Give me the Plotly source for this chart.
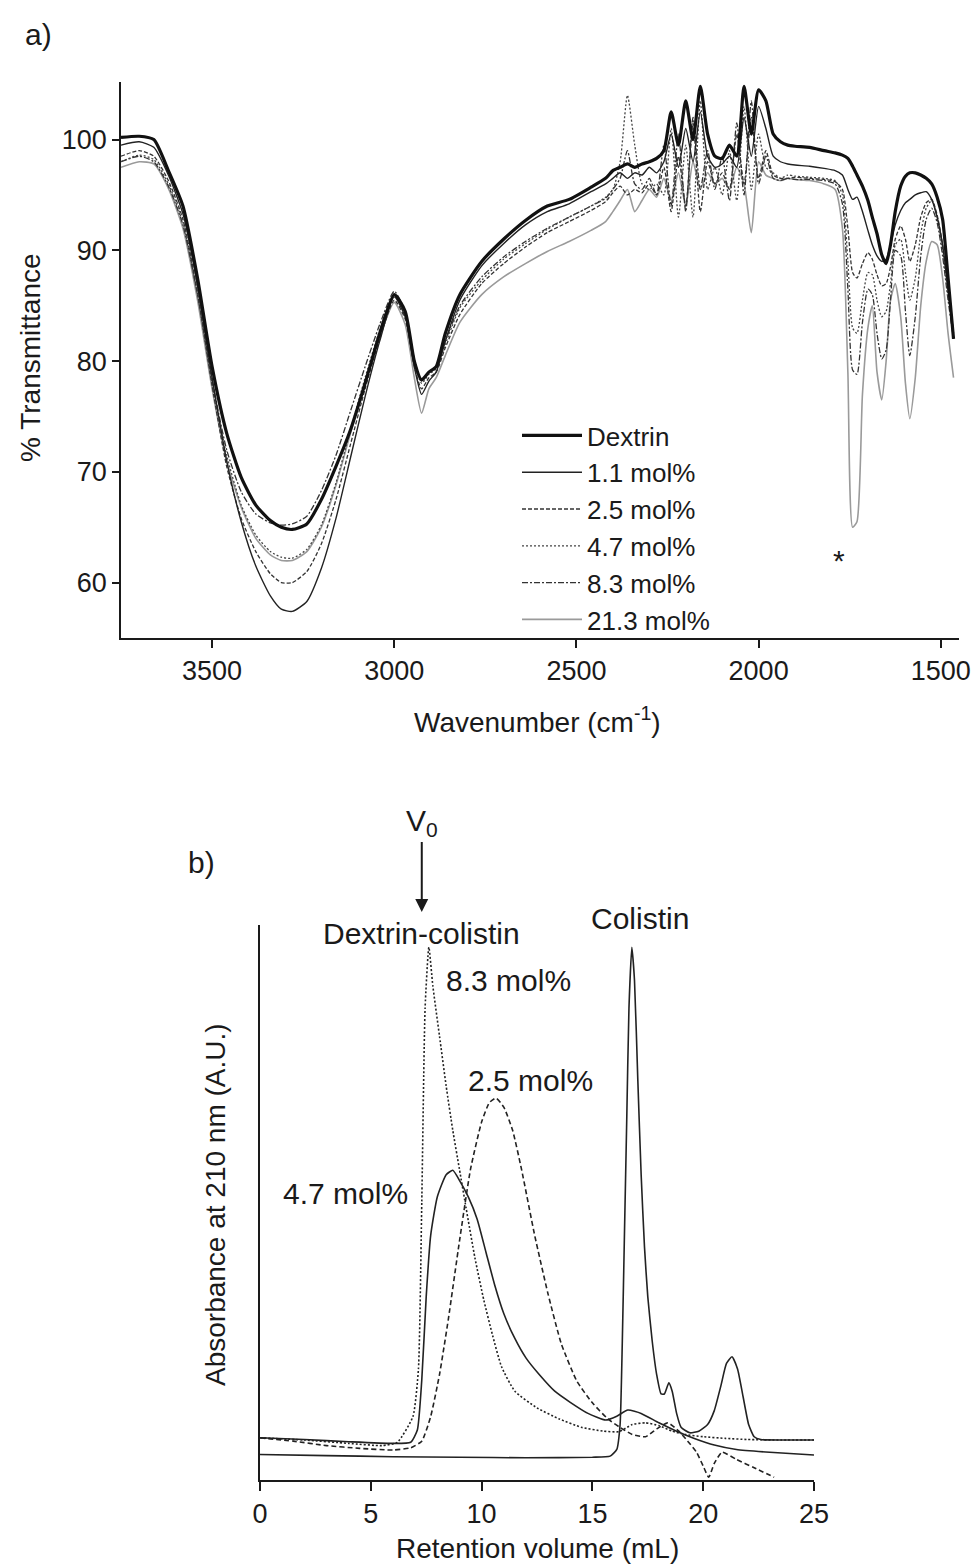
import plotly.graph_objects as go

# ---------------- Panel a) FTIR ----------------
WN_BAND = [3750, 3700, 3660, 3620, 3580, 3540, 3500, 3460, 3420, 3380, 3340, 3310, 3280, 3240,
           3200, 3160, 3120, 3080, 3040, 3000, 2970, 2945, 2925, 2905, 2885, 2860, 2820, 2760,
           2700, 2640, 2580, 2520, 2460, 2420]
WN_NOISE = [2400, 2380, 2360, 2340, 2320, 2300, 2280, 2260, 2240, 2220, 2200, 2180, 2160, 2140,
            2120, 2100, 2080, 2060, 2040, 2020, 2000, 1980, 1960, 1940, 1920, 1900]
WN_AMIDE = [1860, 1820, 1790, 1770, 1755, 1742, 1730, 1715, 1700, 1688, 1675, 1662, 1650, 1638,
            1625, 1610, 1597, 1585, 1570, 1555, 1540, 1525, 1510, 1495, 1480, 1465]

DEX_BAND = [100.2, 100.3, 100.0, 97.2, 94.0, 87.5, 79.5, 73.5, 69.5, 67.0, 65.6, 65.0, 64.8, 65.3,
            67.5, 70.5, 73.8, 78.0, 82.5, 86.0, 84.5, 80.0, 78.3, 79.0, 79.5, 82.5, 86.0, 89.0,
            91.0, 92.7, 94.0, 94.6, 95.7, 96.5]
DEX_NOISE = [97.2, 97.5, 97.8, 97.5, 97.8, 98.0, 98.3, 99.0, 102.5, 99.5, 103.5, 100.0, 104.8, 100.5,
             98.5, 98.3, 99.5, 98.5, 104.8, 100.5, 104.5, 103.5, 100.5, 99.8, 99.5, 99.4]
DEX_AMIDE = [99.3, 99.0, 98.8, 98.6, 98.3, 97.6, 96.8, 95.8, 94.5, 93.0, 91.5, 89.6, 88.8, 90.5,
             93.5, 95.8, 96.7, 97.0, 97.0, 96.8, 96.5, 96.0, 94.8, 92.8, 87.5, 82.0]

M11_BAND = [99.5, 99.8, 99.3, 96.8, 93.3, 86.8, 78.5, 71.0, 65.5, 61.5, 58.8, 57.6, 57.4, 58.3,
            61.3, 65.8, 71.3, 76.8, 81.8, 85.8, 84.0, 79.5, 77.0, 78.2, 79.0, 81.8, 85.5, 88.6,
            90.6, 92.3, 93.5, 94.2, 95.3, 96.0]
M11_NOISE = [96.5, 97.0, 96.5, 97.0, 96.8, 97.5, 97.0, 98.0, 100.5, 97.5, 101.0, 98.0, 102.5, 98.5,
             97.5, 97.8, 98.5, 97.5, 102.0, 98.5, 103.0, 101.0, 98.5, 98.0, 97.8, 97.7]
M11_AMIDE = [97.6, 97.4, 97.2, 96.8, 95.5, 94.6, 94.8, 93.5, 91.8, 90.5, 89.5, 89.0, 89.2, 90.5,
             92.3, 93.6, 94.3, 94.6, 95.0, 95.2, 95.3, 94.6, 93.0, 90.5, 86.5, 82.5]

M25_BAND = [98.5, 99.0, 98.5, 96.3, 92.8, 86.2, 77.8, 70.5, 65.8, 62.8, 60.8, 60.0, 60.0, 61.0,
            63.5, 67.5, 72.5, 77.5, 82.0, 85.5, 83.8, 79.5, 77.5, 78.5, 79.0, 81.2, 84.2, 87.0,
            88.8, 90.3, 91.6, 92.6, 93.6, 94.4]
M25_NOISE = [95.2, 95.8, 95.0, 95.5, 95.2, 96.0, 95.0, 97.5, 93.5, 98.5, 94.0, 101.5, 93.5, 98.0,
             96.0, 97.0, 95.5, 100.5, 96.0, 102.0, 96.5, 99.0, 96.8, 96.5, 96.5, 96.6]
M25_AMIDE = [96.5, 96.4, 96.2, 95.5, 92.0, 88.0, 87.5, 88.8, 89.8, 89.2, 87.8, 86.8, 87.0, 88.5,
             91.0, 92.2, 91.0, 89.0, 90.5, 93.0, 94.3, 94.6, 93.2, 90.5, 86.5, 82.5]

M47_BAND = [98.0, 98.6, 98.2, 96.0, 92.5, 86.0, 78.0, 71.5, 67.0, 64.3, 62.8, 62.3, 62.2, 63.0,
            65.2, 69.0, 73.8, 78.5, 82.8, 86.0, 84.2, 80.0, 78.0, 78.8, 79.3, 81.5, 84.8, 87.3,
            89.2, 90.6, 91.9, 93.0, 94.0, 94.8]
M47_NOISE = [95.5, 98.0, 104.0, 99.5, 96.0, 95.5, 96.0, 95.0, 101.0, 93.0, 99.5, 93.0, 103.5, 95.5,
             97.5, 95.0, 99.0, 94.5, 103.0, 95.5, 100.5, 97.5, 97.0, 96.5, 96.8, 96.7]
M47_AMIDE = [96.6, 96.5, 96.3, 95.0, 89.0, 83.0, 82.5, 85.5, 88.0, 87.8, 85.5, 84.0, 84.5, 87.0,
             90.5, 91.0, 88.0, 85.5, 87.5, 91.5, 93.8, 94.5, 93.0, 90.0, 86.0, 82.5]

M83_BAND = [98.0, 98.5, 98.0, 95.8, 92.3, 86.0, 78.3, 72.0, 68.2, 66.2, 65.4, 65.2, 65.3, 66.0,
            68.3, 71.5, 75.5, 79.5, 83.3, 86.3, 84.5, 80.2, 78.2, 79.0, 79.5, 81.8, 85.0, 87.6,
            89.4, 90.8, 92.0, 93.0, 94.0, 94.7]
M83_NOISE = [95.5, 96.5, 99.0, 96.0, 95.5, 96.5, 95.0, 99.5, 94.0, 100.5, 93.5, 102.0, 95.5, 99.0,
             95.5, 98.5, 94.5, 101.5, 95.0, 103.5, 96.0, 98.5, 96.5, 96.3, 96.5, 96.4]
M83_AMIDE = [96.4, 96.3, 96.0, 94.2, 86.5, 79.2, 78.8, 83.5, 86.5, 86.0, 82.5, 80.2, 81.0, 85.5,
             90.0, 89.5, 84.5, 80.5, 84.0, 89.5, 92.8, 93.8, 92.5, 89.5, 85.5, 82.0]

M213_BAND = [97.5, 98.0, 97.8, 95.6, 92.0, 85.5, 77.5, 71.0, 66.8, 64.0, 62.5, 62.0, 62.0, 62.8,
             65.0, 68.8, 73.5, 78.0, 82.2, 85.3, 83.3, 78.5, 75.3, 77.5, 78.5, 80.5, 83.5, 86.0,
             87.6, 88.8, 89.9, 90.8, 91.8, 92.6]
M213_NOISE = [93.5, 94.5, 95.5, 93.5, 94.5, 95.5, 94.8, 96.5, 94.5, 97.0, 94.0, 98.0, 95.5, 97.0,
              96.0, 96.5, 95.5, 97.5, 96.0, 91.6, 98.0, 96.8, 96.5, 96.3, 96.5, 96.4]
M213_AMIDE = [96.3, 96.0, 95.5, 92.0, 79.0, 65.0, 65.5, 77.0, 83.0, 85.0, 79.0, 76.5, 80.0, 85.5,
              87.0, 84.0, 78.0, 74.8, 78.5, 85.0, 89.0, 90.8, 90.5, 87.5, 82.5, 78.5]

X_TICKS_A = [3500, 3000, 2500, 2000, 1500]
Y_TICKS_A = [60, 70, 80, 90, 100]

# ---------------- Panel b) SEC ----------------
COL_X = [0, 3, 6, 9, 12, 15, 15.8, 16.1, 16.25, 16.35, 16.45, 16.55, 16.65, 16.78, 16.9, 17.05,
         17.2, 17.35, 17.5, 17.7, 17.9, 18.1, 18.25, 18.45, 18.6, 18.8, 19.0, 19.4, 19.8, 20.2,
         20.5, 20.8, 21.05, 21.3, 21.55, 21.8, 22.05, 22.3, 22.6, 23.5, 25]
COL_Y = [0.046, 0.044, 0.042, 0.041, 0.040, 0.041, 0.043, 0.055, 0.10, 0.25, 0.45, 0.65, 0.85,
         0.96, 0.90, 0.72, 0.55, 0.42, 0.33, 0.25, 0.19, 0.155, 0.155, 0.175, 0.16, 0.12, 0.095,
         0.085, 0.088, 0.10, 0.125, 0.17, 0.21, 0.222, 0.20, 0.15, 0.10, 0.078, 0.073, 0.072, 0.072]

C47_X = [0, 2, 4, 6, 6.8, 7.1, 7.3, 7.5, 7.7, 8.0, 8.4, 8.7, 9.0, 9.4, 9.8, 10.2, 10.6, 11.0,
         11.5, 12.0, 12.6, 13.3, 14.0, 14.8, 15.6, 16.1, 16.6, 17.2, 18.0, 18.8, 19.6, 20.5,
         21.5, 23, 25]
C47_Y = [0.076, 0.073, 0.069, 0.066, 0.068, 0.09, 0.18, 0.33, 0.44, 0.51, 0.55, 0.558, 0.54,
         0.51, 0.47, 0.41, 0.35, 0.30, 0.255, 0.22, 0.19, 0.16, 0.14, 0.12, 0.108, 0.115, 0.126,
         0.12, 0.103, 0.088, 0.075, 0.063, 0.055, 0.05, 0.045]

C25_X = [0, 1.5, 3, 4.5, 6, 6.8, 7.3, 7.7, 8.1, 8.5, 9.0, 9.5, 10.0, 10.35, 10.65, 11.0, 11.4,
         11.8, 12.4, 13.0, 13.6, 14.3, 15.0, 15.7, 16.2, 16.8, 17.4, 17.9, 18.4, 18.9, 19.3,
         19.7, 20.0, 20.25, 20.5, 20.85, 21.5, 22.3, 23.2]
C25_Y = [0.076, 0.070, 0.062, 0.057, 0.054, 0.058, 0.07, 0.114, 0.19, 0.29, 0.43, 0.56, 0.645,
         0.68, 0.688, 0.672, 0.63, 0.56, 0.44, 0.335, 0.245, 0.178, 0.139, 0.11, 0.096, 0.082,
         0.078, 0.092, 0.103, 0.088, 0.07, 0.05, 0.025, 0.005, 0.03, 0.05, 0.037, 0.022, 0.005]

C83_X = [0, 2, 4, 5.5, 6.2, 6.9, 7.15, 7.3, 7.45, 7.62, 7.8, 8.1, 8.4, 8.7, 9.0, 9.3, 9.7,
         10.1, 10.5, 10.9, 11.5, 12.5, 13.5, 14.5, 15.5, 16.2, 16.8, 17.4, 18.0, 18.6, 19.2,
         20, 21, 22, 23.5, 25]
C83_Y = [0.076, 0.072, 0.066, 0.062, 0.068, 0.114, 0.2, 0.5, 0.85, 0.96, 0.89, 0.80, 0.71,
         0.63, 0.56, 0.49, 0.40, 0.324, 0.26, 0.204, 0.16, 0.13, 0.11, 0.095, 0.088, 0.087,
         0.10, 0.103, 0.098, 0.088, 0.082, 0.078, 0.075, 0.073, 0.072, 0.072]

X_TICKS_B = [0, 5, 10, 15, 20, 25]

FONT = "Arial, Liberation Sans, sans-serif"
INK = "#1a1a1a"
W, H = 972, 1566

fig = go.Figure()

WN = WN_BAND + WN_NOISE + WN_AMIDE
ftir = [
    ("21.3 mol%", M213_BAND + M213_NOISE + M213_AMIDE, "#9a9a9a", 1.6, "solid"),
    ("8.3 mol%", M83_BAND + M83_NOISE + M83_AMIDE, "#333333", 1.3, "6px,2px,2px,2px"),
    ("4.7 mol%", M47_BAND + M47_NOISE + M47_AMIDE, "#444444", 1.3, "2px,2px"),
    ("2.5 mol%", M25_BAND + M25_NOISE + M25_AMIDE, "#333333", 1.3, "4px,2px"),
    ("1.1 mol%", M11_BAND + M11_NOISE + M11_AMIDE, "#222222", 1.4, "solid"),
    ("Dextrin", DEX_BAND + DEX_NOISE + DEX_AMIDE, "#111111", 3.2, "solid"),
]
for name, vals, col, w, dash in ftir:
    fig.add_trace(go.Scatter(x=WN, y=vals, name=name, mode="lines",
                             line=dict(color=col, width=w, dash=dash, shape="spline", smoothing=0.6),
                             xaxis="x", yaxis="y", showlegend=True))

sec = [
    (COL_X, COL_Y, "solid"),
    (C47_X, C47_Y, "solid"),
    (C25_X, C25_Y, "5px,3px"),
    (C83_X, C83_Y, "2px,2px"),
]
for xs, ys, dash in sec:
    fig.add_trace(go.Scatter(x=xs, y=ys, mode="lines", showlegend=False,
                             line=dict(color="#222222", width=1.6, dash=dash, shape="spline", smoothing=0.5),
                             xaxis="x2", yaxis="y2"))

axis_common = dict(showline=True, linecolor=INK, linewidth=1.5, ticks="outside", tickwidth=1.5,
                   tickcolor=INK, showgrid=False, zeroline=False, automargin=False,
                   tickfont=dict(family=FONT, size=27, color=INK))

fig.update_layout(
    template="none",
    width=W, height=H, autosize=False,
    margin=dict(l=0, r=0, t=0, b=0, pad=0, autoexpand=False),
    paper_bgcolor="white", plot_bgcolor="white",
    font=dict(family=FONT, color=INK),
    xaxis=dict(domain=[121 / W, 959 / W], anchor="y", range=[3750, 1450], tickvals=X_TICKS_A,
               ticklen=8, **axis_common),
    yaxis=dict(domain=[(H - 638) / H, (H - 82) / H], anchor="x", range=[55, 105.2],
               tickvals=Y_TICKS_A, ticklen=7, **axis_common),
    xaxis2=dict(domain=[260 / W, 814 / W], anchor="y2", range=[0, 25], tickvals=X_TICKS_B,
                ticklen=9, **axis_common),
    yaxis2=dict(domain=[(H - 1480) / H, (H - 925) / H], anchor="x2", range=[0, 1], showline=True,
                linecolor=INK, linewidth=1.5, showticklabels=False, ticks="", showgrid=False,
                zeroline=False, automargin=False),
    legend=dict(x=517 / W, y=(H - 412) / H, xanchor="left", yanchor="top", traceorder="reversed",
                font=dict(family=FONT, size=26, color=INK), bgcolor="rgba(0,0,0,0)",
                borderwidth=0, itemwidth=60, tracegroupgap=0),
    showlegend=True,
)

ann = []
def pa(text, x, y, size=28, angle=0, xref="paper", yref="paper", xanchor="center"):
    ann.append(dict(text=text, x=x, y=y, xref=xref, yref=yref, showarrow=False,
                    font=dict(family=FONT, size=size, color=INK), textangle=angle,
                    xanchor=xanchor, yanchor="middle"))

pa("a)", 38 / W, (H - 34) / H, size=30)
pa("% Transmittance", 30 / W, (H - 358) / H, angle=-90)
pa("Wavenumber (cm<sup>-1</sup>)", 537 / W, (H - 720) / H)
pa("*", 1778, 62.0, size=30, xref="x", yref="y")

pa("b)", 201 / W, (H - 862) / H, size=30)
pa("Absorbance at 210 nm (A.U.)", 215 / W, (H - 1205) / H, angle=-90)
pa("Retention volume (mL)", 537 / W, (H - 1548) / H)
pa("Dextrin-colistin", 7.3, 0.985, size=30, xref="x2", yref="y2")
pa("Colistin", 17.15, (H - 918) / H, size=30, xref="x2", yref="paper")
pa("8.3 mol%", 11.2, 0.90, size=30, xref="x2", yref="y2")
pa("2.5 mol%", 12.2, 0.72, size=30, xref="x2", yref="y2")
pa("4.7 mol%", 3.85, 0.517, size=30, xref="x2", yref="y2")

ann.append(dict(text="V<sub>0</sub>", x=7.3, y=(H - 912) / H, xref="x2", yref="paper",
                showarrow=True, ax=0, ay=-90, arrowhead=2, arrowsize=1.3, arrowwidth=2,
                arrowcolor=INK, font=dict(family=FONT, size=30, color=INK)))

fig.update_layout(annotations=ann)
fig.write_html("out.html", config={"responsive": False, "displayModeBar": False},
               post_script="document.body.style.margin='0';document.body.style.overflow='hidden';")
